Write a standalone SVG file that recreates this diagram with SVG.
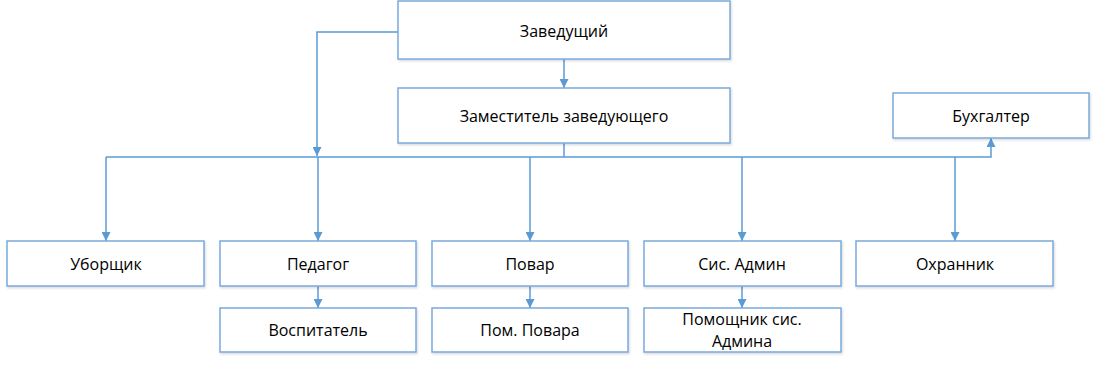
<svg xmlns="http://www.w3.org/2000/svg" width="1098" height="369" viewBox="0 0 1098 369">
<style>
.box{fill:#fff;stroke:#7aa9dc;stroke-width:1.5;filter:url(#sh)}
.lbl{font-family:"Open Sans","Liberation Sans",sans-serif;font-size:16px;fill:#000;text-anchor:middle;dominant-baseline:central}
.ln{fill:none;stroke:#5b9bd5;stroke-width:1.5}
</style>
<defs>
<filter id="sh" x="-5%" y="-10%" width="110%" height="130%">
<feDropShadow dx="1" dy="1.5" stdDeviation="1.2" flood-color="#000" flood-opacity="0.15"/>
</filter>
<marker id="ar" viewBox="0 0 10 10" refX="10" refY="5" markerWidth="9" markerHeight="9" markerUnits="userSpaceOnUse" orient="auto">
<path d="M0,0 L10,5 L0,10 z" fill="#5b9bd5"/>
</marker>
</defs>
<g id="connectors">
<path class="ln" d="M564,59 V88" marker-end="url(#ar)"/>
<path class="ln" d="M398,32 H317 V156" marker-end="url(#ar)"/>
<path class="ln" d="M564,143 V157"/>
<path class="ln" d="M106,157 H991 V138" marker-end="url(#ar)"/>
<path class="ln" d="M106,157 V241" marker-end="url(#ar)"/>
<path class="ln" d="M318,157 V241" marker-end="url(#ar)"/>
<path class="ln" d="M530,157 V241" marker-end="url(#ar)"/>
<path class="ln" d="M742,157 V241" marker-end="url(#ar)"/>
<path class="ln" d="M955,157 V241" marker-end="url(#ar)"/>
<path class="ln" d="M318,286 V308" marker-end="url(#ar)"/>
<path class="ln" d="M530,286 V308" marker-end="url(#ar)"/>
<path class="ln" d="M742,286 V308" marker-end="url(#ar)"/>
</g>
<g id="zaveduyushchiy"><rect class="box" x="398" y="1" width="332" height="58"/><text class="lbl" x="564" y="31">Заведущий</text></g>
<g id="zamestitel"><rect class="box" x="398" y="88" width="332" height="55"/><text class="lbl" x="564" y="116">Заместитель заведующего</text></g>
<g id="bukhgalter"><rect class="box" x="893" y="93" width="196" height="45"/><text class="lbl" x="991" y="116">Бухгалтер</text></g>
<g id="uborshchik"><rect class="box" x="7" y="241" width="197" height="45"/><text class="lbl" x="106" y="264">Уборщик</text></g>
<g id="pedagog"><rect class="box" x="220" y="241" width="196" height="45"/><text class="lbl" x="318" y="264">Педагог</text></g>
<g id="povar"><rect class="box" x="432" y="241" width="196" height="45"/><text class="lbl" x="530" y="264">Повар</text></g>
<g id="sisadmin"><rect class="box" x="644" y="241" width="197" height="45"/><text class="lbl" x="742" y="264">Сис. Админ</text></g>
<g id="okhrannik"><rect class="box" x="856" y="241" width="197" height="45"/><text class="lbl" x="955" y="264">Охранник</text></g>
<g id="vospitatel"><rect class="box" x="220" y="308" width="196" height="44"/><text class="lbl" x="318" y="330">Воспитатель</text></g>
<g id="pompovara"><rect class="box" x="432" y="308" width="196" height="44"/><text class="lbl" x="530" y="330">Пом. Повара</text></g>
<g id="pomsisadmin"><rect class="box" x="644" y="308" width="197" height="44"/><text class="lbl" x="742" y="319">Помощник сис.</text><text class="lbl" x="742" y="341">Админа</text></g>
</svg>
